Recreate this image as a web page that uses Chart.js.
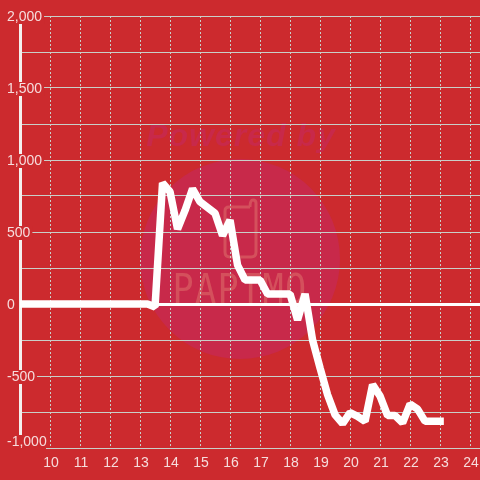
<!DOCTYPE html>
<html><head><meta charset="utf-8">
<style>html,body{margin:0;padding:0;background:#cc2a2e}canvas{display:block}</style>
<script src="https://cdn.jsdelivr.net/npm/chart.js@4/dist/chart.umd.min.js"></script>
</head><body><div style="width:480px;height:480px"><canvas id="c"></canvas></div>
<script>
const hours=[9,9.25,9.5,9.75,10,10.25,10.5,10.75,11,11.25,11.5,11.75,12,12.25,12.5,12.75,13,13.25,13.5,13.75,14,14.25,14.5,14.75,15,15.25,15.5,15.75,16,16.25,16.5,16.75,17,17.25,17.5,17.75,18,18.25,18.5,18.75,19,19.25,19.5,19.75,20,20.25,20.5,20.75,21,21.25,21.5,21.75,22,22.25,22.5,22.75,23];
const values=[0,0,0,0,0,0,0,0,0,0,0,0,0,0,0,0,0,0,-20,840,780,520,650,800,710,670,630,475,583,270,167,167,167,70,70,70,70,-110,70,-250,-445,-630,-770,-830,-755,-780,-815,-560,-640,-775,-775,-825,-695,-730,-815,-815,-815];
const watermarkTop="Powered by";
const watermarkBottom="PAPTMO";
const bg='#cc2a2e',white='#ffffff',labelColor='#f6dcdc',gridColor='#c9cfc9';
const watermark={id:'watermark',beforeDraw(ch){
  const c=ch.ctx;c.save();
  c.fillStyle=bg;c.fillRect(0,0,480,480);
  c.fillStyle='#c8294a';c.beginPath();c.arc(240,259,100,0,Math.PI*2);c.fill();
  c.font='italic bold 32px "Liberation Sans"';c.textAlign='center';c.textBaseline='alphabetic';c.letterSpacing='1px';
  c.fillText(watermarkTop,241,146);
  c.strokeStyle='#d4505c';c.lineWidth=3;c.lineJoin='round';
  c.beginPath();c.moveTo(250,207);c.lineTo(229,207);c.quadraticCurveTo(225,207,225,211);c.lineTo(225,252);c.quadraticCurveTo(225,257,230,257);c.lineTo(251,257);c.quadraticCurveTo(256,257,256,252);c.lineTo(256,203);c.quadraticCurveTo(256,200,253,200);c.quadraticCurveTo(250,200,250,207);c.stroke();
  c.translate(240,303);c.scale(0.88,1);
  c.fillStyle='#d4505c';c.font='40px "DejaVu Sans Mono"';c.letterSpacing='1.5px';
  c.fillText(watermarkBottom,0,0);
  c.restore();
},beforeDatasetsDraw(ch){
  const c=ch.ctx,s=ch.scales.y,p=s.getPixelForValue(-1000);
  c.save();c.fillStyle=bg;c.fillRect(4,p-13,42,14);c.restore();
}};
new Chart(document.getElementById('c'),{
  type:'line',
  data:{labels:hours,datasets:[{data:values,borderColor:white,borderWidth:7.5,borderJoinStyle:'bevel',borderCapStyle:'square',pointRadius:0,tension:0,fill:false}]},
  options:{responsive:true,maintainAspectRatio:false,animation:false,
    layout:{padding:{top:16,right:0,bottom:0,left:0}},
    plugins:{legend:{display:false},tooltip:{enabled:false},title:{display:false}},
    scales:{
      x:{type:'linear',min:9,max:24.33,
        afterFit(s){s.height=32;s.paddingRight=0;s.paddingLeft=0;},
        ticks:{stepSize:1,includeBounds:false,autoSkip:false,maxRotation:0,color:labelColor,labelOffset:1,font:{family:'"Liberation Sans"',size:14},padding:7,
          callback:v=>(v>=10&&v<=24)?String(v):''},
        grid:{z:-1,color:c=>c.tick&&c.tick.value===9?'rgba(0,0,0,0)':gridColor,lineWidth:1,drawTicks:false},
        border:{display:false,dash:[2,2]}
      },
      y:{min:-1000,max:2000,
        afterFit(s){s.width=20;s.paddingTop=0;s.paddingBottom=0;},
        ticks:{stepSize:250,autoSkip:false,color:labelColor,z:3,mirror:true,padding:-13,labelOffset:1,
          font:{family:'"Liberation Sans"',size:14,lineHeight:1},
          showLabelBackdrop:c=>c.tick&&c.tick.value%500===0&&c.tick.value!==-1000,
          backdropColor:bg,
          backdropPadding:{top:0,bottom:0,left:2,right:2},
          callback:v=>v===-1000?['-1,000','']:(v%500===0?v.toLocaleString('en-US'):'')},
        grid:{z:-1,color:c=>c.tick&&c.tick.value===0?white:gridColor,lineWidth:c=>c.tick&&c.tick.value===0?3:1,drawTicks:false},
        border:{display:true,color:'#f4f0ef',width:3}
      }
    }
  },
  plugins:[watermark]
});
</script></body></html>
